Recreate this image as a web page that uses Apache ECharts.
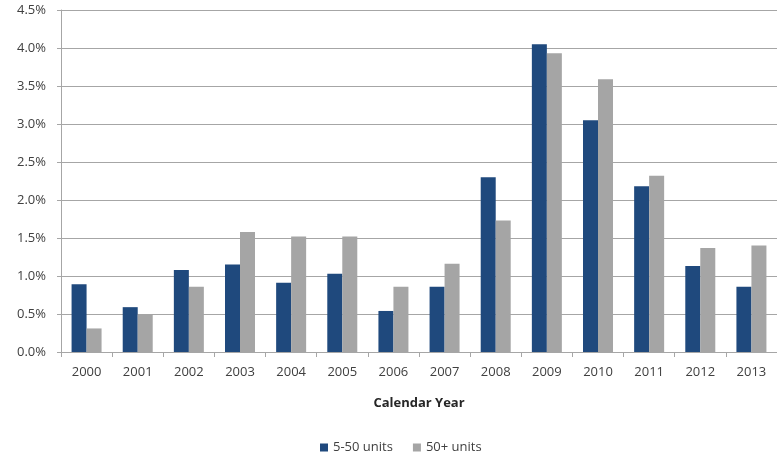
<!DOCTYPE html>
<html>
<head>
<meta charset="utf-8">
<script src="https://cdn.jsdelivr.net/npm/echarts@6/dist/echarts.min.js"></script>
<style>html,body{margin:0;padding:0;background:#fff}#c{width:777px;height:459px}</style>
</head>
<body>
<div id="c"></div>
<script>
const categories = ['2000','2001','2002','2003','2004','2005','2006','2007','2008','2009','2010','2011','2012','2013'];
const units5to50 = [0.89,0.59,1.08,1.15,0.91,1.03,0.54,0.86,2.30,4.05,3.05,2.18,1.13,0.86];
const units50plus = [0.31,0.50,0.86,1.58,1.52,1.52,0.86,1.16,1.73,3.93,3.59,2.32,1.37,1.40];
const seriesNames = ['5-50 units','50+ units'];
const xAxisTitle = 'Calendar Year';

const chart = echarts.init(document.getElementById('c'), null, {renderer:'canvas'});
const font = 'Open Sans, Liberation Sans, sans-serif';
chart.setOption({
  animation:false,
  backgroundColor:'#ffffff',
  grid:{left:61, right:0, top:10, bottom:107, containLabel:false},
  legend:{
    left:315, top:436, itemWidth:8, itemHeight:8, itemGap:20,
    icon:'rect',
    textStyle:{fontFamily:font, fontSize:13, color:'#404040'},
    data:seriesNames
  },
  xAxis:{
    type:'category', data:categories,
    name:xAxisTitle, nameLocation:'middle', nameGap:45,
    nameTextStyle:{fontFamily:font, fontSize:13, fontWeight:'bold', color:'#262626'},
    axisLine:{lineStyle:{color:'#a6a6a6', width:1}},
    axisTick:{show:true, length:5, lineStyle:{color:'#a6a6a6'}},
    axisLabel:{margin:14, fontFamily:font, fontSize:13, color:'#404040'}
  },
  yAxis:{
    type:'value', min:0, max:4.5, interval:0.5,
    axisLine:{show:true, lineStyle:{color:'#a6a6a6', width:1}},
    axisTick:{show:true, length:4, lineStyle:{color:'#a6a6a6'}},
    splitLine:{lineStyle:{color:'#a6a6a6', width:1}},
    axisLabel:{margin:15, fontFamily:font, fontSize:13, color:'#404040',
      formatter:v=>v.toFixed(1)+'%'}
  },
  series:[
    {name:seriesNames[0], type:'bar', data:units5to50, barWidth:15, barGap:'0%',
      itemStyle:{color:'#1f497d'}},
    {name:seriesNames[1], type:'bar', data:units50plus, barWidth:15, barGap:'0%',
      itemStyle:{color:'#a5a5a5'}}
  ]
});
</script>
</body>
</html>
